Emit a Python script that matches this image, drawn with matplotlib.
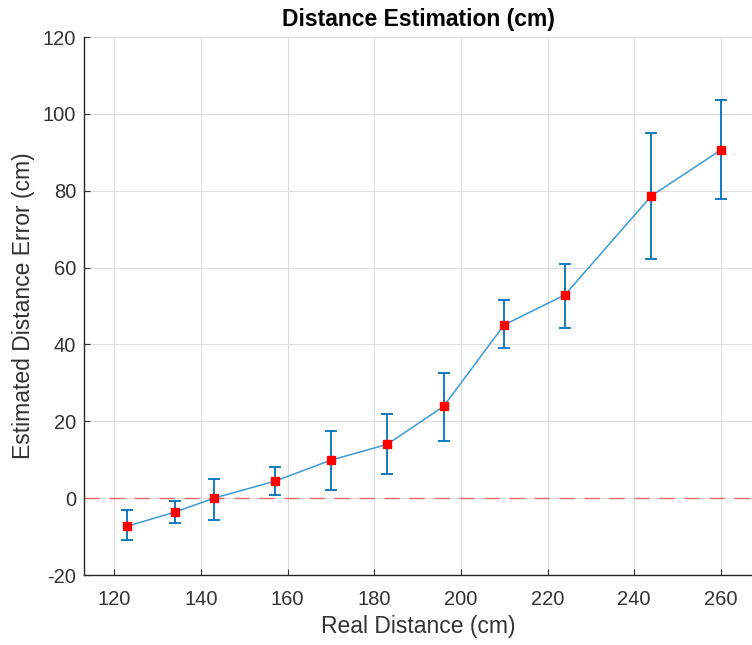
import matplotlib
matplotlib.use('Agg')
import matplotlib.pyplot as plt

plt.rcParams['font.family'] = ['Liberation Sans', 'DejaVu Sans']
plt.rcParams['axes.unicode_minus'] = False

# data
real_dist = [123, 134, 143, 157, 170, 183, 196, 210, 224, 244, 260]
est_error = [-7.3, -3.6, 0.0, 4.4, 9.9, 14.0, 23.9, 45.1, 52.9, 78.7, 90.6]
err_low = [3.6, 2.8, 5.6, 3.7, 7.7, 7.8, 9.0, 6.1, 8.7, 16.4, 12.7]
err_high = [4.1, 2.9, 5.1, 3.6, 7.7, 7.8, 8.8, 6.5, 8.1, 16.3, 13.1]

fig = plt.figure(figsize=(7.52, 6.45), dpi=100)
ax = fig.add_axes([0.1117, 0.1085, 0.8883, 0.834])

dark = '#333333'
ax.grid(True, color='#dedede', linewidth=0.8)
ax.set_axisbelow(True)

ax.axhline(0, color='#e8696b', linestyle=(0, (11, 7)), linewidth=1.0, zorder=2)
ax.errorbar(real_dist, est_error, yerr=[err_low, err_high], fmt='none',
            ecolor='#0072bd', elinewidth=1.3, capsize=4.5, capthick=1.3, zorder=3)
ax.plot(real_dist, est_error, '-', color='#3b9ad9', linewidth=1.1, zorder=4)
ax.plot(real_dist, est_error, 's', color='red', markersize=6.3, zorder=5)

ax.set_xlim(113, 267.2)
ax.set_ylim(-20, 120)
ax.set_xticks(range(120, 261, 20))
ax.set_yticks(range(-20, 121, 20))

for s in ['top', 'right']:
    ax.spines[s].set_visible(False)
for s in ['left', 'bottom']:
    ax.spines[s].set_color('#262626')
    ax.spines[s].set_linewidth(1.0)
ax.tick_params(direction='in', length=4, colors=dark, labelsize=14.5)
ax.tick_params(axis='x', pad=11)
ax.tick_params(axis='y', pad=5.5)

ax.set_xlabel('Real Distance (cm)', fontsize=16.5, color=dark, labelpad=4)
ax.set_ylabel('Estimated Distance Error (cm)', fontsize=16.5, color=dark, labelpad=6)
ax.set_title('Distance Estimation (cm)', fontsize=16.5, fontweight='bold', color='black', pad=8)

fig.savefig('out.png', dpi=100)
